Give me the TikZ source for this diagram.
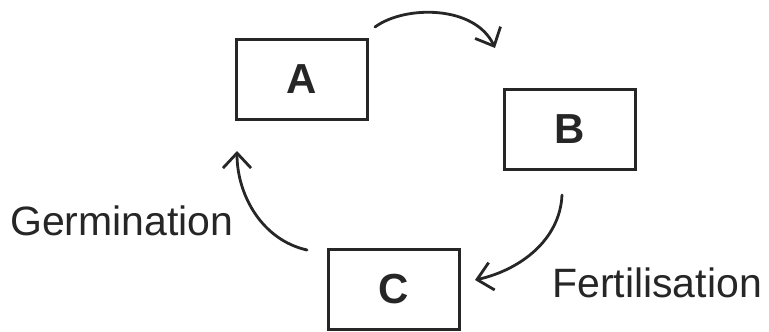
\documentclass[tikz,border=0pt]{standalone}
\usepackage{fontspec}
\setmainfont{Liberation Sans}
\usetikzlibrary{arrows.meta}
\begin{document}
\begin{tikzpicture}[x=1pt,y=-1pt,
  box/.style={draw=black!85, line width=3pt, minimum width=131pt, minimum height=80pt, inner sep=0pt,
    font=\fontsize{42}{48}\selectfont\bfseries, text=black!85},
  lbl/.style={inner sep=0pt, font=\fontsize{41}{48}\selectfont, text=black!85},
  cyc/.style={draw=black!85, line width=2.8pt, line cap=round,
    -{Straight Barb[length=15pt, width=28pt, line width=2.8pt]}}]
\useasboundingbox (0,0) rectangle (769,332);
\node[box] (A) at (301.5,79.5) {A};
\node[box] (B) at (570,129) {B};
\node[box] (C) at (394,289) {C};
\node[lbl, anchor=base west] (germ) at (10,235) {Germination};
\node[lbl, anchor=base west] (fert) at (552,297) {Fertilisation};
\coordinate (ab1) at (375,27);
\coordinate (ab2) at (495,48);
\coordinate (bc1) at (562,195);
\coordinate (bc2) at (475,280);
\coordinate (ca1) at (307,250);
\coordinate (ca2) at (237,151);
\draw[cyc] (ab1) .. controls (405,5) and (475,5) .. (ab2);
\draw[cyc] (bc1) .. controls (560,240) and (520,270) .. (bc2);
\draw[cyc] (ca1) .. controls (262,240) and (237,195) .. (ca2);
\end{tikzpicture}
\end{document}
